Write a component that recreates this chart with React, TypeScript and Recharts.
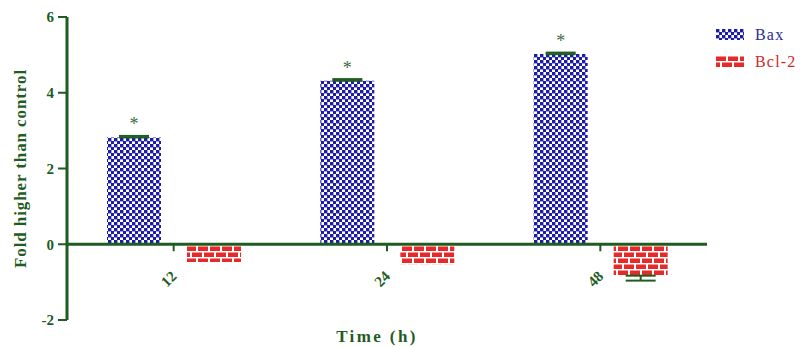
import { BarChart, Bar, XAxis, YAxis, ErrorBar, LabelList, ReferenceLine, Legend } from 'recharts'

const times = ['12', '24', '48']
const baxValues = [2.82, 4.32, 5.02]
const bcl2Values = [-0.47, -0.53, -0.83]
const baxErrors: ([number, number] | null)[] = [[0, 0.04], [0, 0.04], [0, 0.04]]
const bcl2Errors: ([number, number] | null)[] = [null, null, [0.13, 0]]
const baxMarks = ['*', '*', '*']
const yTicks = [-2, 0, 2, 4, 6]

const W = 810
const H = 347
const Y_MIN = -2
const Y_MAX = 6
const TOP = 17
const X_AXIS_H = 27
const PLOT_H = H - TOP - X_AXIS_H

const GREEN = '#1f5c1f'
const BLUE = '#1c1ca6'
const RED = '#e62a2a'
const SERIF = '"Liberation Serif", "Times New Roman", serif'

const data = times.map((t, i) => ({
    time: t,
    bax: baxValues[i],
    bcl2: bcl2Values[i],
    baxErr: baxErrors[i],
    bcl2Err: bcl2Errors[i],
    baxMark: baxMarks[i]
}))

const legendItems = [
    { name: 'Bax', pattern: 'checker', color: '#2d2d95' },
    { name: 'Bcl-2', pattern: 'brick', color: '#cf2828' }
]

// x ticks sit at the zero line, not at the bottom of the plot
const TimeTick = ({ x, y, payload }: any) => {
    const zeroY = y - PLOT_H * (0 - Y_MIN) / (Y_MAX - Y_MIN)
    const tx = x + 4
    const ty = zeroY + 33
    return (
        <g>
            <line x1={x} x2={x} y1={zeroY} y2={zeroY + 7} stroke={GREEN} strokeWidth={2} />
            <text
                x={tx}
                y={ty}
                transform={`rotate(-45 ${tx} ${ty})`}
                textAnchor="end"
                fill={GREEN}
                fontFamily={SERIF}
                fontWeight="bold"
                fontSize={15}
            >
                {payload.value}
            </text>
        </g>
    )
}

const YLabel = ({ viewBox }: any) => {
    const cx = 20
    const cy = viewBox.y + viewBox.height / 2
    return (
        <text
            x={cx}
            y={cy}
            transform={`rotate(-90 ${cx} ${cy})`}
            textAnchor="middle"
            dominantBaseline="central"
            fill={GREEN}
            fontFamily={SERIF}
            fontWeight="bold"
            fontSize={17}
            style={{ letterSpacing: 0.9 }}
        >
            Fold higher than control
        </text>
    )
}

const PatternLegend = () => (
    <div style={{ fontFamily: SERIF, fontSize: 16, letterSpacing: 1.2 }}>
        {legendItems.map((item) => (
            <div key={item.name} style={{ display: 'flex', alignItems: 'center', height: 27 }}>
                <svg width={28} height={11}>
                    <rect width={28} height={11} fill={`url(#${item.pattern})`} />
                </svg>
                <span style={{ marginLeft: 11, color: item.color }}>{item.name}</span>
            </div>
        ))}
    </div>
)

export default function App() {
    return (
        <div style={{ position: 'absolute', left: 0, top: 0, width: W, height: H, background: '#fff' }}>
            <BarChart
                width={W}
                height={H}
                data={data}
                margin={{ top: TOP, right: 103, left: 0, bottom: 0 }}
                barSize={54}
                barGap={26}
            >
                <defs>
                    <pattern id="checker" width={6} height={6} patternUnits="userSpaceOnUse">
                        <rect width={6} height={6} fill="#ffffff" />
                        <rect x={0} y={0} width={3.4} height={3.4} fill={BLUE} />
                        <rect x={3} y={3} width={3.4} height={3.4} fill={BLUE} />
                    </pattern>
                    <pattern id="brick" width={12} height={12} patternUnits="userSpaceOnUse">
                        <rect width={12} height={12} fill="#ffffff" />
                        <rect x={0} y={0.5} width={10} height={4.5} fill={RED} />
                        <rect x={-6} y={6.5} width={10} height={4.5} fill={RED} />
                        <rect x={6} y={6.5} width={10} height={4.5} fill={RED} />
                    </pattern>
                </defs>

                <XAxis
                    dataKey="time"
                    height={X_AXIS_H}
                    axisLine={false}
                    tickLine={false}
                    tickSize={0}
                    tickMargin={0}
                    tick={<TimeTick />}
                    label={{
                        value: 'Time (h)',
                        position: 'insideBottom',
                        offset: 5,
                        dx: -10,
                        fill: GREEN,
                        fontFamily: SERIF,
                        fontWeight: 'bold',
                        fontSize: 17,
                        style: { letterSpacing: 2.4 }
                    }}
                />
                <YAxis
                    width={67}
                    domain={[Y_MIN, Y_MAX]}
                    ticks={yTicks}
                    interval={0}
                    axisLine={{ stroke: GREEN, strokeWidth: 3 }}
                    tickLine={{ stroke: GREEN, strokeWidth: 2 }}
                    tickSize={9}
                    tickMargin={4}
                    tick={{
                        fill: GREEN,
                        fontFamily: SERIF,
                        fontWeight: 700,
                        fontSize: 15,
                        style: { fontFamily: SERIF, fontWeight: 700 }
                    }}
                    label={<YLabel />}
                />

                <Legend
                    layout="vertical"
                    align="center"
                    verticalAlign="middle"
                    content={<PatternLegend />}
                    wrapperStyle={{ left: 716, top: 21, width: 'auto', height: 'auto' }}
                />

                <Bar dataKey="bax" name="Bax" fill="url(#checker)" isAnimationActive={false}>
                    <ErrorBar dataKey="baxErr" width={15} stroke={GREEN} strokeWidth={2} direction="y" />
                    <LabelList
                        dataKey="baxMark"
                        position="top"
                        offset={7}
                        fill="#3d6b3d"
                        fontFamily={SERIF}
                        fontSize={18}
                    />
                </Bar>
                <Bar dataKey="bcl2" name="Bcl-2" fill="url(#brick)" isAnimationActive={false}>
                    <ErrorBar dataKey="bcl2Err" width={15} stroke={GREEN} strokeWidth={2} direction="y" />
                </Bar>

                <ReferenceLine y={0} stroke={GREEN} strokeWidth={3} ifOverflow="extendDomain" />
            </BarChart>
        </div>
    )
}
